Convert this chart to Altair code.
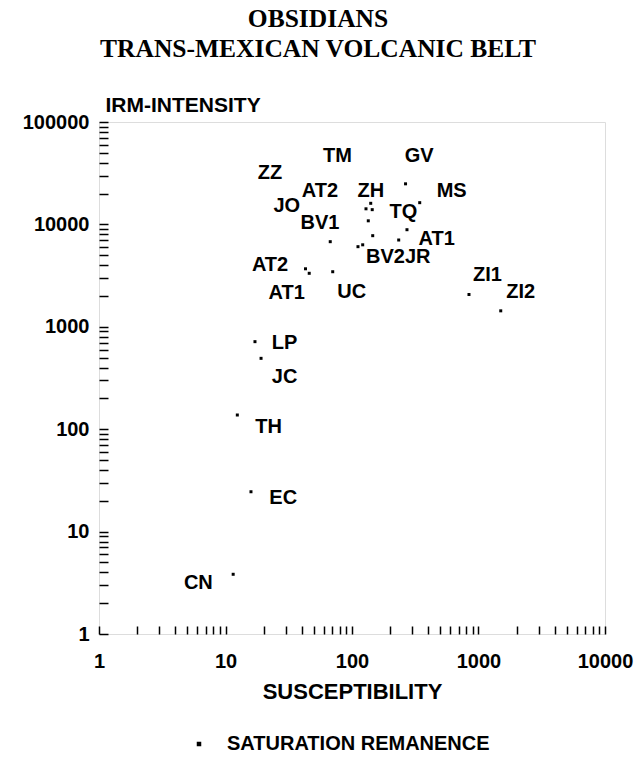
import altair as alt
import pandas as pd

# --- sample points (susceptibility, IRM intensity) ---
sus = [265, 343, 140.6, 129, 144.5, 134.5, 145.8, 272, 234, 67.3, 111.5, 121.5,
       42.9, 45.9, 70.4, 841, 1499, 17.1, 19.1, 12.4, 15.9, 11.5]
irm = [24900, 16300, 16070, 14200, 13930, 10840, 7760, 8875, 7040, 6780, 6060, 6320,
       3685, 3330, 3450, 2067, 1432, 716, 492, 137.6, 24.5, 3.83]

# --- site labels (text and anchor in data coordinates) ---
label_text = ["ZZ", "TM", "GV", "AT2", "ZH", "JO", "BV1", "TQ", "MS", "AT1", "BV2JR",
              "AT2", "AT1", "UC", "ZI1", "ZI2", "LP", "JC", "TH", "EC", "CN"]
label_sus = [22.5, 76.8, 340, 55.8, 140.8, 30.5, 55.8, 254.6, 614, 467, 232,
             22.5, 30.5, 99.5, 1178, 2157, 29.3, 29.3, 21.9, 28.6, 6.1]
label_irm = [31550, 46800, 46800, 21300, 21300, 15200, 10250, 13300, 21300, 7170, 4840,
             4015, 2124, 2203, 3205, 2163, 690, 320, 104, 21.5, 3.18]

x_ticks = [1, 2, 3, 4, 5, 6, 7, 8, 9, 10, 20, 30, 40, 50, 60, 70, 80, 90, 100,
           200, 300, 400, 500, 600, 700, 800, 900, 1000,
           2000, 3000, 4000, 5000, 6000, 7000, 8000, 9000, 10000]
y_ticks = [1, 2, 3, 4, 5, 6, 7, 8, 9, 10, 20, 30, 40, 50, 60, 70, 80, 90, 100,
           200, 300, 400, 500, 600, 700, 800, 900, 1000,
           2000, 3000, 4000, 5000, 6000, 7000, 8000, 9000, 10000,
           20000, 30000, 40000, 50000, 60000, 70000, 80000, 90000, 100000]

series_name = "SATURATION REMANENCE"

pts = pd.DataFrame({"sus": sus, "irm": irm, "series": series_name})
labs = pd.DataFrame({"sus": label_sus, "irm": label_irm, "name": label_text})

SANS = "Liberation Sans"
decade_expr = ("(datum.value==1||datum.value==10||datum.value==100||datum.value==1000||"
               "datum.value==10000||datum.value==100000) ? format(datum.value,'d') : ''")

xscale = alt.Scale(type="log", domain=[1, 10000], nice=False)
yscale = alt.Scale(type="log", domain=[1, 100000], nice=False)

xaxis = alt.Axis(values=x_ticks, labelExpr=decade_expr, orient="bottom", offset=-8,
                 tickSize=8, tickColor="black", tickWidth=1.5, domain=False, grid=False,
                 labelFont=SANS, labelFontSize=20, labelFontWeight="bold", labelColor="black",
                 labelPadding=17, labelOverlap=False, labelFlush=False,
                 title="SUSCEPTIBILITY", titleFont=SANS, titleFontSize=22,
                 titleFontWeight="bold", titleColor="black", titleBaseline="alphabetic",
                 titleY=72)
yaxis = alt.Axis(values=y_ticks, labelExpr=decade_expr, orient="left", offset=-9,
                 tickSize=9, tickColor="black", tickWidth=1.5, domain=False, grid=False,
                 labelFont=SANS, labelFontSize=20, labelFontWeight="bold", labelColor="black",
                 labelPadding=10, labelOverlap=False, labelFlush=False,
                 title="IRM-INTENSITY", titleFont=SANS, titleFontSize=21,
                 titleFontWeight="bold", titleColor="black", titleAngle=0,
                 titleAlign="left", titleBaseline="alphabetic", titleX=-3, titleY=-11)

points = alt.Chart(pts).mark_square(size=9, opacity=1).encode(
    x=alt.X("sus:Q", scale=xscale, axis=xaxis),
    y=alt.Y("irm:Q", scale=yscale, axis=yaxis),
    color=alt.Color("series:N", scale=alt.Scale(range=["black"]),
                    legend=alt.Legend(title=None, orient="none", legendX=90, legendY=612,
                                      symbolType="square", symbolSize=9,
                                      symbolFillColor="black", symbolStrokeColor="black",
                                      labelFont=SANS, labelFontSize=20,
                                      labelFontWeight="bold", labelColor="black",
                                      labelOffset=18, labelLimit=500, padding=0)),
)

labels = alt.Chart(labs).mark_text(font=SANS, fontSize=20, fontWeight="bold",
                                   align="center", baseline="middle", color="black").encode(
    x=alt.X("sus:Q", scale=xscale, axis=xaxis),
    y=alt.Y("irm:Q", scale=yscale, axis=yaxis),
    text="name:N",
)

chart = alt.layer(points, labels).properties(
    width=506, height=512,
    padding={"left": 99, "top": 122, "right": 34, "bottom": 127},
    autosize=alt.AutoSizeParams(type="none"),
    title=alt.TitleParams(text=["OBSIDIANS", "TRANS-MEXICAN VOLCANIC BELT"],
                          font="Liberation Serif", fontSize=25.5, fontWeight="bold",
                          color="black", anchor="middle", dx=-34, lineHeight=30,
                          offset=32),
).configure_view(stroke="black", strokeWidth=1.5).configure(background="white")

chart.save("out.html", embed_options={"renderer": "svg", "actions": False})
